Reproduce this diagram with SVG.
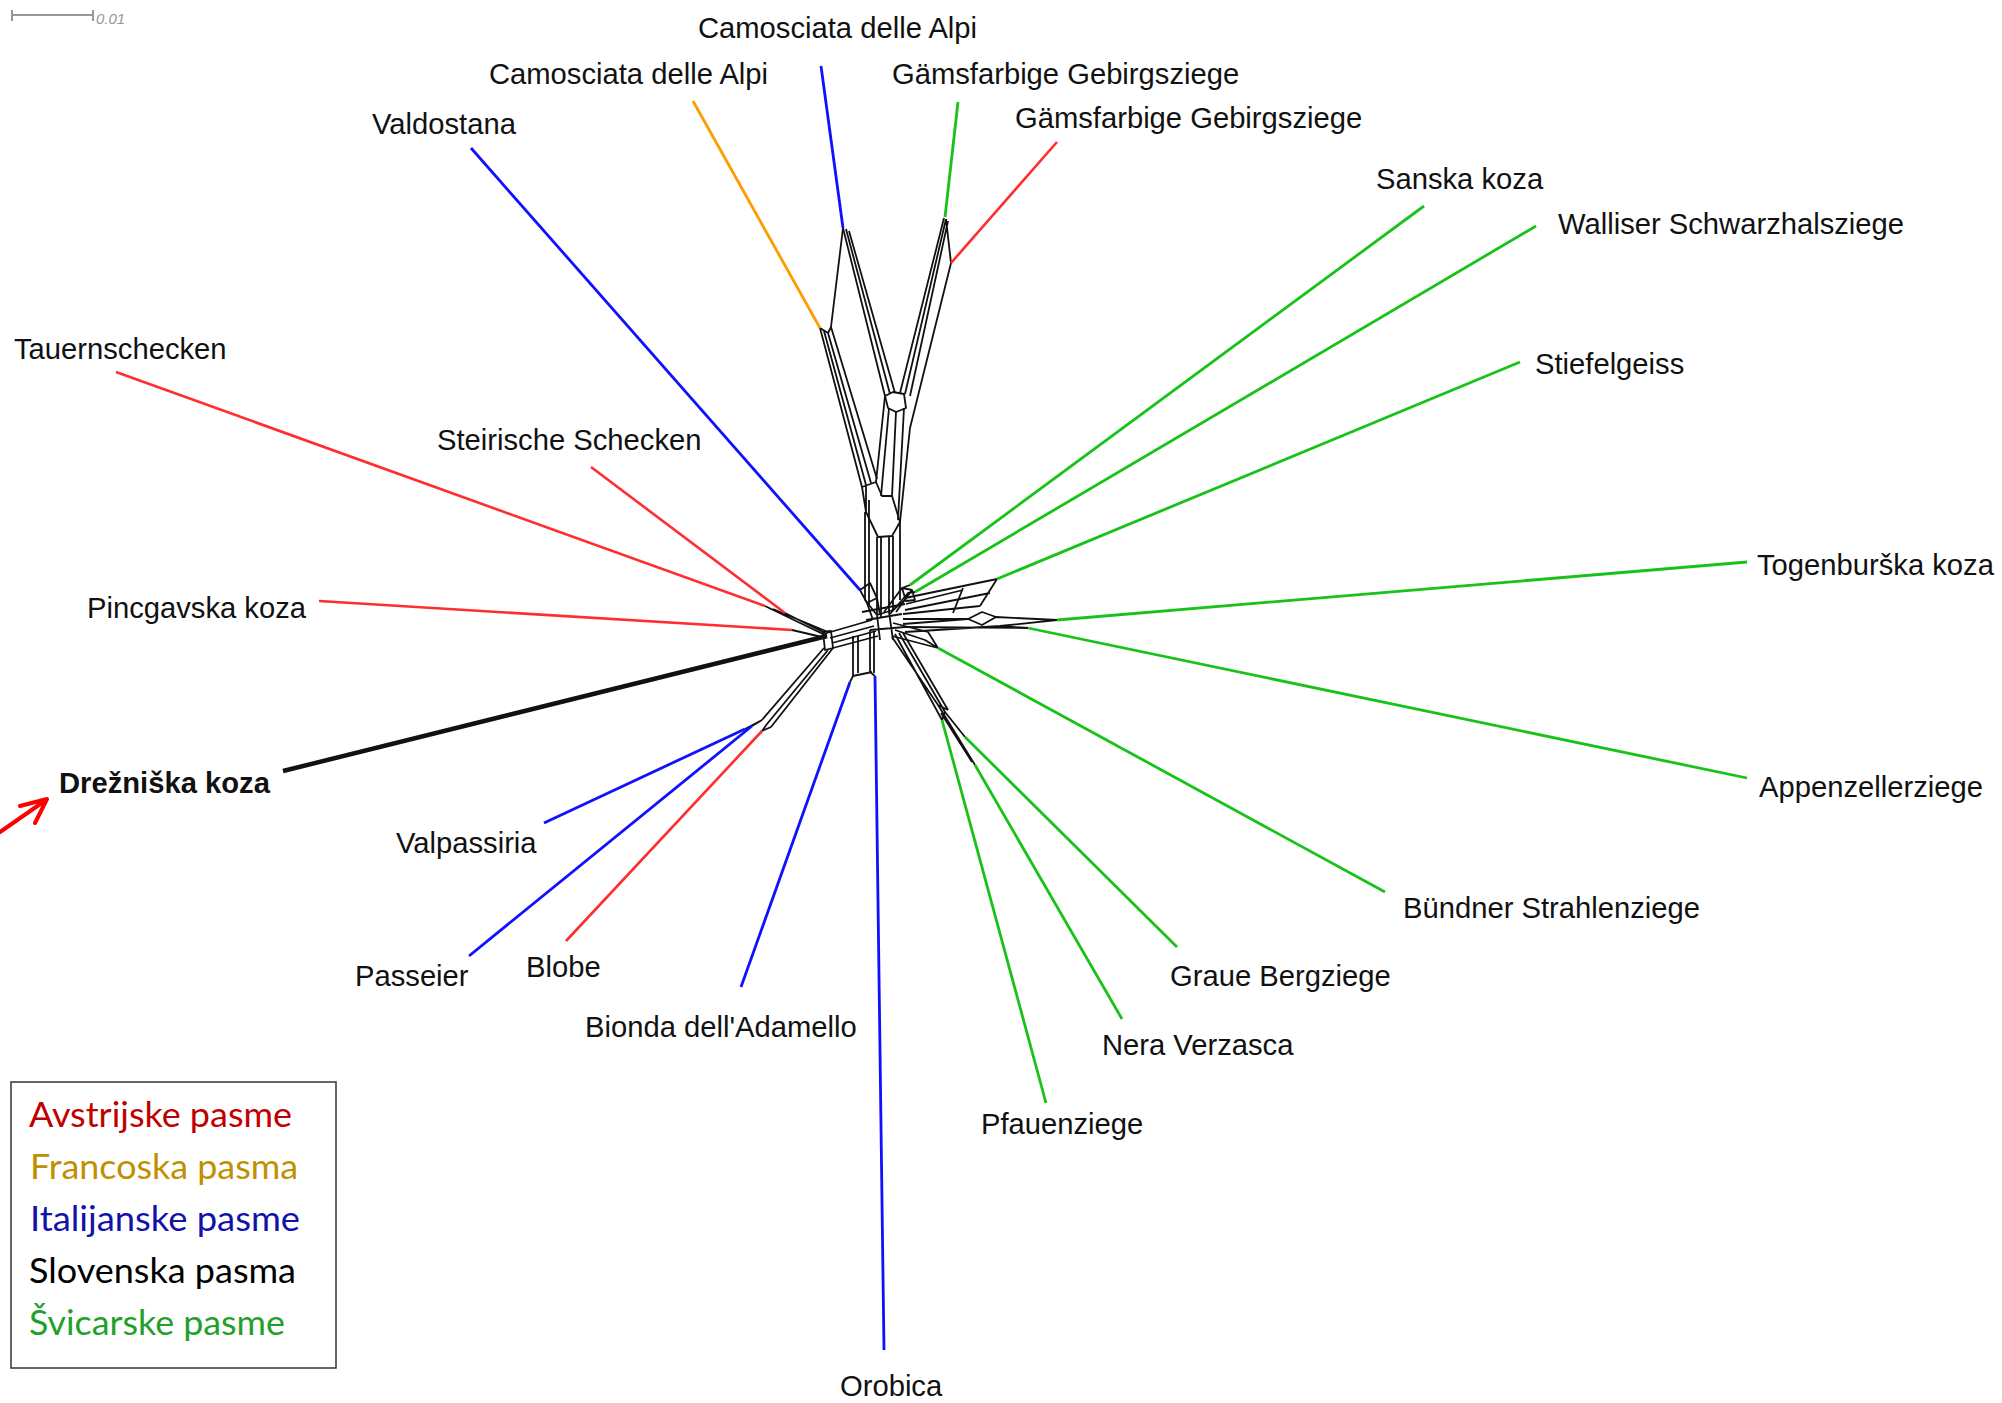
<svg xmlns="http://www.w3.org/2000/svg" width="2002" height="1403" viewBox="0 0 2002 1403">
<style>
.lbl{font-family:"Liberation Sans",Arial,sans-serif;font-size:29.2px;fill:#111}
.n{fill:none;stroke:#111;stroke-width:1.8;stroke-linejoin:round}
.g{fill:none;stroke:#19c219;stroke-width:2.8}
.b{fill:none;stroke:#1010ff;stroke-width:2.8}
.r{fill:none;stroke:#ff2d2d;stroke-width:2.6}
.o{fill:none;stroke:#ff9c00;stroke-width:2.8}
.leg{font-family:Lato,"Open Sans",sans-serif;font-size:35px}
</style>
<rect width="2002" height="1403" fill="#fff"/>
<g id="scale">
<path d="M12,15 H93 M12,10 V21 M93,10 V21" stroke="#999" stroke-width="2" fill="none"/>
<text x="96" y="24" font-family="Liberation Sans,Arial,sans-serif" font-size="15" font-style="italic" fill="#999">0.01</text>
</g>
<g id="connectors">
<path class="n" d="M843,228 L831,327 L828,333 M820,328 L828,333"/>
<path class="n" d="M820,328 L862,487 M824,331 L866,485 M828,333 L871,483 M831,327 L877,479"/>
<path class="n" d="M843,228 L885,396 M846,229 L890,394 M849,231 L895,393"/>
<path class="n" d="M885,396 L893,392 L904,394 L906,408 L896,412 L888,408 Z"/>
<path class="n" d="M944,218 L900,393 M946,219 L905,394 M948,221 L910,396 M946,219 L951,263 L910,428 L900,522"/>
<path class="n" d="M885,396 L876,482 M889,408 L881,496 M896,412 L892,496 M904,408 L898,520"/>
<path class="n" d="M862,487 L876,482 L882,496 L892,496 L900,522 L892,536 L878,537 L866,512 Z M866,485 L866,512"/>
<path class="n" d="M865,512 V600 M869,500 V606 M877,537 V615 M881,537 V618 M889,536 V612 M893,536 V610 M900,522 V600"/>
<path class="n" d="M860,590 L870,583 L877,598 L867,603 Z M867,603 L873,620 M877,598 L880,615"/>
<path class="n" d="M862,612 L905,604 M866,620 L902,614 M870,630 L905,627 M877,615 L880,640 M889,612 L893,640 M865,600 L877,615 L893,610 L905,600"/>
<path class="n" d="M765,606 L827,636 M785,613 L827,634 M792,630 L826,638 M773,609 L828,632"/>
<path class="n" d="M823,632 L831,631 L833,648 L825,650 Z"/>
<path class="n" d="M827,633 L872,620 M830,638 L874,626 M832,643 L876,631 M833,648 L878,636"/>
<path class="n" d="M824,648 L762,720 M828,650 L767,724 M833,648 L771,727 M762,720 L745,729 M762,720 L752,726 M767,724 L762,731 M771,727 L762,731"/>
<path class="n" d="M853,636 V676 L850,682 M858,636 V673 M853,676 L872,672 M870,630 V672 L875,676 M874,632 V673"/>
<path class="n" d="M884,612 L902,588 L910,585 M890,614 L908,593 L915,592 M896,612 L912,590 M902,588 L912,590 L915,600 L906,601 Z"/>
<path class="n" d="M905,598 L997,579 M906,604 L963,590 M905,610 L990,593 M963,588 L953,613 M997,579 L980,606 M903,614 L980,606 M903,619 L968,619 L982,612 L996,617 L1057,620 M903,624 L968,619 M968,619 L982,625 L996,617 M903,627 L1028,628 M905,632 L1000,626 L1057,620 M1000,626 L1028,628"/>
<path class="n" d="M893,623 L928,632 L938,648 M895,630 L925,640 L938,648 M892,636 L938,648"/>
<path class="n" d="M895,634 L942,720 M899,633 L945,712 L965,737 M903,633 L948,710 M892,637 L938,705 L975,765 M945,712 L942,720 M938,705 L948,710 M941,713 L972,762"/>
<path d="M283,771 L827,636" stroke="#111" stroke-width="4.5" fill="none"/>
<path class="b" d="M821,66 L843,228"/>
<path class="o" d="M693,101 L820,328"/>
<path class="g" d="M958,102 L945,217"/>
<path class="r" d="M1057,142 L951,263"/>
<path class="b" d="M471,148 L860,590"/>
<path class="g" d="M1424,206 L910,585"/>
<path class="g" d="M1536,226 L915,592"/>
<path class="g" d="M1520,362 L997,579"/>
<path class="g" d="M1747,562 L1057,620"/>
<path class="g" d="M1747,778 L1028,628"/>
<path class="g" d="M1385,892 L938,648"/>
<path class="g" d="M1177,947 L965,737"/>
<path class="g" d="M1122,1019 L975,765"/>
<path class="g" d="M1046,1103 L942,720"/>
<path class="b" d="M884,1350 L875,676"/>
<path class="b" d="M741,987 L850,682"/>
<path class="r" d="M566,941 L762,731"/>
<path class="b" d="M469,956 L752,726"/>
<path class="b" d="M544,823 L745,729"/>
<path class="r" d="M319,601 L792,630"/>
<path class="r" d="M116,372 L765,606"/>
<path class="r" d="M591,467 L785,613"/>
</g>
<g id="n-camosciata1"><text class="lbl" x="698" y="38">Camosciata delle Alpi</text></g>
<g id="n-camosciata2"><text class="lbl" x="489" y="84">Camosciata delle Alpi</text></g>
<g id="n-gams1"><text class="lbl" x="892" y="84">Gämsfarbige Gebirgsziege</text></g>
<g id="n-gams2"><text class="lbl" x="1015" y="128">Gämsfarbige Gebirgsziege</text></g>
<g id="n-valdostana"><text class="lbl" x="372" y="134">Valdostana</text></g>
<g id="n-sanska"><text class="lbl" x="1376" y="189">Sanska koza</text></g>
<g id="n-walliser"><text class="lbl" x="1558" y="234">Walliser Schwarzhalsziege</text></g>
<g id="n-tauern"><text class="lbl" x="14" y="359">Tauernschecken</text></g>
<g id="n-stiefel"><text class="lbl" x="1535" y="374">Stiefelgeiss</text></g>
<g id="n-steirische"><text class="lbl" x="437" y="450">Steirische Schecken</text></g>
<g id="n-togen"><text class="lbl" x="1757" y="575">Togenburška koza</text></g>
<g id="n-pincgavska"><text class="lbl" x="87" y="618">Pincgavska koza</text></g>
<g id="n-drezniska"><text class="lbl" x="59" y="793" font-weight="bold" font-size="29.8">Drežniška koza</text></g>
<g id="n-appenzeller"><text class="lbl" x="1759" y="797">Appenzellerziege</text></g>
<g id="n-valpassiria"><text class="lbl" x="396" y="853">Valpassiria</text></g>
<g id="n-bundner"><text class="lbl" x="1403" y="918">Bündner Strahlenziege</text></g>
<g id="n-passeier"><text class="lbl" x="355" y="986">Passeier</text></g>
<g id="n-blobe"><text class="lbl" x="526" y="977">Blobe</text></g>
<g id="n-graue"><text class="lbl" x="1170" y="986">Graue Bergziege</text></g>
<g id="n-bionda"><text class="lbl" x="585" y="1037">Bionda dell'Adamello</text></g>
<g id="n-nera"><text class="lbl" x="1102" y="1055">Nera Verzasca</text></g>
<g id="n-pfauen"><text class="lbl" x="981" y="1134">Pfauenziege</text></g>
<g id="n-orobica"><text class="lbl" x="840" y="1396">Orobica</text></g>
<g id="arrow">
<path d="M0,832 L46,800 M20,806 L47,799 L35,823" stroke="#f00" stroke-width="4" fill="none" stroke-linecap="round" stroke-linejoin="round"/>
</g>
<g id="legend">
<rect x="11" y="1082" width="325" height="286" fill="#fff" stroke="#333" stroke-width="1.5"/>
<text class="leg" x="29" y="1127" fill="#c00000" textLength="263" lengthAdjust="spacingAndGlyphs">Avstrijske pasme</text>
<text class="leg" x="30" y="1179" fill="#bf9000" textLength="268" lengthAdjust="spacingAndGlyphs">Francoska pasma</text>
<text class="leg" x="30" y="1231" fill="#1212a8" textLength="270" lengthAdjust="spacingAndGlyphs">Italijanske pasme</text>
<text class="leg" x="29" y="1283" fill="#000" textLength="267" lengthAdjust="spacingAndGlyphs">Slovenska pasma</text>
<text class="leg" x="29" y="1335" fill="#22a02a" textLength="256" lengthAdjust="spacingAndGlyphs">Švicarske pasme</text>
</g>
</svg>
